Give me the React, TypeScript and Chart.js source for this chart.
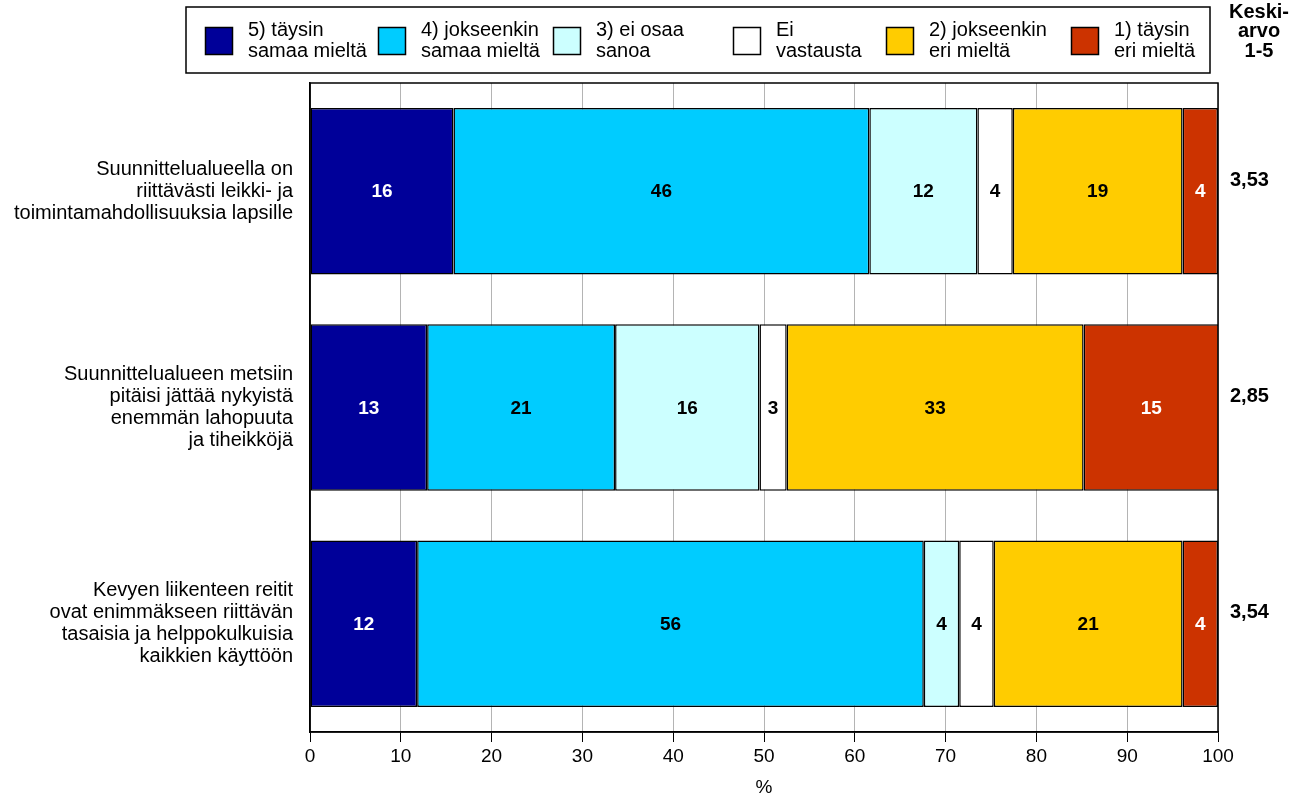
import React, { useEffect, useRef } from 'react';
import { Chart, registerables } from 'chart.js';

Chart.register(...registerables);

const FONT = "'Liberation Sans', Arial, Helvetica, sans-serif";

const categories: string[][] = [
  ['Suunnittelualueella on', 'riittävästi leikki- ja', 'toimintamahdollisuuksia lapsille'],
  ['Suunnittelualueen metsiin', 'pitäisi jättää nykyistä', 'enemmän lahopuuta', 'ja tiheikköjä'],
  ['Kevyen liikenteen reitit', 'ovat enimmäkseen riittävän', 'tasaisia ja helppokulkuisia', 'kaikkien käyttöön'],
];

const seriesNames: string[][] = [
  ['5) täysin', 'samaa mieltä'],
  ['4) jokseenkin', 'samaa mieltä'],
  ['3) ei osaa', 'sanoa'],
  ['Ei', 'vastausta'],
  ['2) jokseenkin', 'eri mieltä'],
  ['1) täysin', 'eri mieltä'],
];

const seriesColors = ['#000099', '#00CCFF', '#CCFFFF', '#FFFFFF', '#FFCC00', '#CC3300'];
const labelColors = ['#FFFFFF', '#000000', '#000000', '#000000', '#000000', '#FFFFFF'];

const fullyAgree = [15.8, 12.9, 11.8];
const somewhatAgree = [45.8, 20.7, 55.8];
const cannotSay = [11.9, 15.9, 3.9];
const noAnswer = [3.9, 3.0, 3.8];
const somewhatDisagree = [18.7, 32.7, 20.8];
const fullyDisagree = [3.9, 14.9, 3.9];

const meanValues = ['3,53', '2,85', '3,54'];
const meanHeader = ['Keski-', 'arvo', '1-5'];
const xTickValues = [0, 10, 20, 30, 40, 50, 60, 70, 80, 90, 100];

const seriesData = [fullyAgree, somewhatAgree, cannotSay, noAnswer, somewhatDisagree, fullyDisagree];

const legendItemX = [205, 378, 553, 733, 886, 1071];

const overlayPlugin = {
  id: 'overlay',
  afterDatasetsDraw(chart: any) {
    const ctx = chart.ctx as CanvasRenderingContext2D;
    ctx.save();
    ctx.font = `bold 19px ${FONT}`;
    ctx.textAlign = 'center';
    ctx.textBaseline = 'middle';
    chart.data.datasets.forEach((ds: any, di: number) => {
      const meta = chart.getDatasetMeta(di);
      meta.data.forEach((bar: any, i: number) => {
        const p = bar.getProps(['x', 'y', 'base'], true);
        ctx.fillStyle = labelColors[di];
        ctx.fillText(String(Math.round(ds.data[i])), (p.x + p.base) / 2, p.y + 1);
      });
    });
    ctx.restore();
  },
  afterDraw(chart: any) {
    const ctx = chart.ctx as CanvasRenderingContext2D;
    const area = chart.chartArea;
    ctx.save();
    // plot frame
    ctx.strokeStyle = '#000';
    ctx.lineWidth = 1.5;
    ctx.strokeRect(area.left, area.top, area.right - area.left, area.bottom - area.top);

    // mean values
    const yScale = chart.scales.y;
    ctx.fillStyle = '#000';
    ctx.font = `bold 20px ${FONT}`;
    ctx.textAlign = 'left';
    ctx.textBaseline = 'middle';
    meanValues.forEach((m, i) => {
      ctx.fillText(m, area.right + 12, yScale.getPixelForValue(i) - 11);
    });

    // header
    ctx.textAlign = 'center';
    meanHeader.forEach((t, i) => {
      ctx.fillText(t, area.right + 41, 12 + i * 19.5);
    });

    // legend
    ctx.lineWidth = 1.5;
    ctx.strokeStyle = '#000';
    ctx.strokeRect(186, 7, 1210 - 186, 66);
    ctx.font = `20px ${FONT}`;
    ctx.textAlign = 'left';
    seriesNames.forEach((lines, i) => {
      const x = legendItemX[i];
      ctx.fillStyle = seriesColors[i];
      ctx.fillRect(x, 27, 28, 28);
      ctx.lineWidth = 1.5;
      ctx.strokeStyle = '#000';
      ctx.strokeRect(x + 0.5, 27.5, 27, 27);
      ctx.fillStyle = '#000';
      lines.forEach((l, j) => ctx.fillText(l, x + 43, 30 + j * 21.5));
    });
    ctx.restore();
  },
};

export default function App() {
  const ref = useRef<HTMLCanvasElement | null>(null);

  useEffect(() => {
    if (!ref.current) return;
    const chart = new Chart(ref.current, {
      type: 'bar',
      data: {
        labels: categories,
        datasets: seriesData.map((d, i) => ({
          label: seriesNames[i].join(' '),
          data: d,
          backgroundColor: seriesColors[i],
          borderColor: '#000',
          borderWidth: 1.5,
          borderSkipped: false,
          barPercentage: 0.77,
          categoryPercentage: 1,
        })),
      },
      options: {
        indexAxis: 'y',
        animation: false,
        responsive: false,
        devicePixelRatio: 1,
        layout: { padding: { top: 83, right: 78, left: 0, bottom: 0 } },
        plugins: {
          legend: { display: false },
          tooltip: { enabled: false },
        },
        scales: {
          x: {
            stacked: true,
            min: 0,
            max: 100,
            afterBuildTicks: (scale: any) => {
              scale.ticks = xTickValues.map((v) => ({ value: v }));
            },
            afterFit: (scale: any) => {
              scale.height = 61;
            },
            ticks: {
              font: { family: FONT, size: 19 },
              color: '#000',
              padding: 3,
              maxRotation: 0,
            },
            grid: {
              color: '#b4b4b4',
              tickColor: '#000',
              tickLength: 10,
              drawTicks: true,
            },
            border: { color: '#000', width: 1.5 },
            title: {
              display: true,
              text: '%',
              color: '#000',
              font: { family: FONT, size: 19 },
              padding: { top: 0, bottom: -6 },
            },
          },
          y: {
            stacked: true,
            afterFit: (scale: any) => {
              scale.width = 310;
            },
            ticks: {
              font: { family: FONT, size: 20, lineHeight: 1.1 },
              color: '#000',
              padding: 17,
            },
            grid: { display: false, drawTicks: false },
            border: { color: '#000', width: 1.5 },
          },
        },
      },
      plugins: [overlayPlugin],
    });
    return () => chart.destroy();
  }, []);

  return (
    <div style={{ position: 'absolute', left: 0, top: 0, width: 1296, height: 793 }}>
      <canvas ref={ref} width={1296} height={793} style={{ width: 1296, height: 793 }} />
    </div>
  );
}
